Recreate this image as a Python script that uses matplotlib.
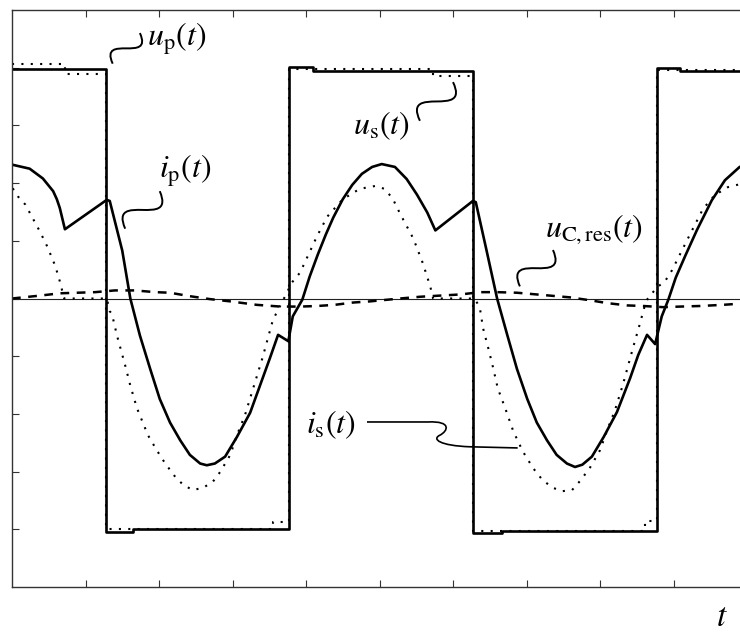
import matplotlib
matplotlib.use('Agg')
import matplotlib.pyplot as plt
from matplotlib.path import Path
from matplotlib.patches import PathPatch

plt.rcParams['mathtext.fontset'] = 'stix'
plt.rcParams['font.family'] = ['STIXGeneral', 'DejaVu Serif']

# primary voltage u_p(t), square wave (steps-post)
up_t = [0, 1.28, 1.65, 3.77, 4.10, 6.27, 6.67, 8.78, 9.09, 10]
up_v = [3.98, -4.04, -3.99, 4.02, 3.95, -4.07, -4.03, 4.00, 3.94, 3.94]

# secondary voltage u_s(t), dotted square wave (steps-post)
us_t = [0, 0.72, 1.28, 3.55, 3.77, 5.73, 6.27, 8.61, 8.78, 10]
us_v = [4.06, 3.89, -3.99, -3.87, 3.98, 3.85, -4.03, -3.86, 3.96, 3.96]

# primary current i_p(t)
ip_t = [0.00, 0.24, 0.42, 0.56, 0.61, 0.65, 0.72, 1.29, 1.33, 1.50, 1.61, 1.74,
        1.88, 2.01, 2.15, 2.29, 2.42, 2.56, 2.65, 2.76, 2.90, 3.06, 3.24, 3.51,
        3.62, 3.76, 3.82, 3.95, 4.05, 4.16, 4.27, 4.37, 4.50, 4.63, 4.76, 4.90,
        5.03, 5.21, 5.37, 5.51, 5.65, 5.76, 6.27, 6.31, 6.45, 6.60, 6.74, 6.87,
        7.01, 7.14, 7.28, 7.41, 7.55, 7.66, 7.76, 7.89, 8.05, 8.23, 8.41, 8.52,
        8.64, 8.75, 8.84, 8.93, 9.03, 9.16, 9.32, 9.43, 9.52, 9.70, 9.90, 10.0]
ip_v = [2.32, 2.25, 2.08, 1.86, 1.72, 1.57, 1.20, 1.71, 1.69, 0.83, 0.00, -0.64,
        -1.22, -1.74, -2.15, -2.46, -2.71, -2.86, -2.89, -2.86, -2.74, -2.40, -1.98, -1.03,
        -0.63, -0.74, -0.31, -0.02, 0.38, 0.76, 1.11, 1.40, 1.72, 1.97, 2.16, 2.28,
        2.33, 2.28, 2.07, 1.80, 1.49, 1.18, 1.69, 1.67, 0.87, 0.00, -0.64, -1.22,
        -1.74, -2.15, -2.46, -2.71, -2.86, -2.92, -2.88, -2.74, -2.40, -1.97, -1.38, -0.98,
        -0.63, -0.79, -0.31, -0.02, 0.36, 0.74, 1.19, 1.47, 1.70, 2.05, 2.28, 2.32]

# secondary current i_s(t)
is_t = [0.01, 0.08, 0.18, 0.27, 0.38, 0.48, 0.59, 0.65, 0.71, 1.29, 1.33, 1.36,
        1.43, 1.54, 1.61, 1.70, 1.85, 1.97, 2.08, 2.22, 2.33, 2.46, 2.60, 2.73,
        2.83, 2.97, 3.06, 3.17, 3.41, 3.55, 3.70, 3.81, 3.92, 4.15, 4.29, 4.50,
        4.73, 4.94, 5.07, 5.18, 5.28, 5.46, 5.59, 5.69, 5.73, 6.29, 6.33, 6.37,
        6.41, 6.48, 6.54, 6.61, 6.71, 6.82, 6.95, 7.09, 7.22, 7.36, 7.48, 7.62,
        7.73, 7.86, 8.00, 8.11, 8.20, 8.31, 8.45, 8.54, 8.61, 8.65, 8.78, 8.88,
        8.98, 9.09, 9.22, 9.40, 9.56, 9.74, 9.90]
is_v = [1.91, 1.77, 1.63, 1.42, 1.16, 0.90, 0.56, 0.30, 0.00, 0.00, -0.22, -0.27,
        -0.65, -1.16, -1.51, -1.90, -2.37, -2.63, -2.85, -3.09, -3.23, -3.32, -3.28, -3.18,
        -3.01, -2.71, -2.37, -2.02, -1.02, -0.37, 0.00, 0.28, 0.45, 1.08, 1.42, 1.72,
        1.90, 1.95, 1.90, 1.73, 1.47, 1.04, 0.61, 0.21, 0.00, 0.00, -0.08, -0.20,
        -0.52, -0.86, -1.17, -1.56, -1.90, -2.30, -2.65, -2.94, -3.15, -3.28, -3.34, -3.32,
        -3.16, -2.94, -2.63, -2.24, -1.95, -1.50, -0.85, -0.45, -0.12, 0.00, 0.20, 0.29,
        0.49, 0.77, 1.10, 1.55, 1.79, 1.93, 1.98]

# resonant capacitor voltage u_C,res(t)
uc_t = [0.00, 0.38, 0.65, 1.13, 1.40, 1.67, 1.95, 2.15, 2.42, 2.69, 2.97, 3.33,
        3.65, 3.92, 4.15, 4.39, 4.64, 4.87, 5.28, 5.55, 5.82, 6.10, 6.37, 6.60,
        6.87, 7.32, 7.59, 7.86, 8.10, 8.37, 8.59, 8.86, 9.09, 9.36, 9.67, 9.90, 10.0]
uc_v = [0.00, 0.05, 0.09, 0.11, 0.14, 0.14, 0.11, 0.10, 0.04, -0.01, -0.05, -0.11,
        -0.14, -0.14, -0.13, -0.11, -0.07, -0.05, 0.00, 0.03, 0.05, 0.07, 0.11, 0.11,
        0.10, 0.05, 0.02, -0.03, -0.08, -0.12, -0.13, -0.15, -0.14, -0.13, -0.11, -0.09, -0.08]


def squiggle(ax, p0, p1, k=0.75):
    # S-shaped leader line between two points (in data coords)
    sx, sy = 73.5, 57.7
    x0, y0 = p0[0] * sx, p0[1] * sy
    x1, y1 = p1[0] * sx, p1[1] * sy
    dx, dy = x1 - x0, y1 - y0
    nx, ny = -dy * k, dx * k
    c1 = ((x0 + dx / 3 + nx) / sx, (y0 + dy / 3 + ny) / sy)
    c2 = ((x0 + 2 * dx / 3 - nx) / sx, (y0 + 2 * dy / 3 - ny) / sy)
    path = Path([p0, c1, c2, p1], [Path.MOVETO, Path.CURVE4, Path.CURVE4, Path.CURVE4])
    ax.add_patch(PathPatch(path, fc='none', ec='black', lw=1.4))


fig = plt.figure(figsize=(7.4, 6.32), dpi=100)
ax = fig.add_axes([12 / 740, 1 - 587 / 632, 735 / 740, 577 / 632])

ax.axhline(0, color='#222222', lw=0.8)
ax.plot(uc_t, uc_v, color='black', lw=1.8, dashes=(3.5, 3))
ax.plot(us_t, us_v, color='black', lw=1.5, drawstyle='steps-post', linestyle=(0, (1, 3.5)))
ax.plot(is_t, is_v, color='black', lw=1.5, linestyle=(0, (1, 3.5)))
ax.plot(up_t, up_v, color='black', lw=1.9, drawstyle='steps-post')
ax.plot(ip_t, ip_v, color='black', lw=1.9, solid_joinstyle='round')

# labels with leader lines
fs = 23
ax.text(1.84, 4.50, r'$u_{\mathrm{p}}(t)$', fontsize=fs, ha='left', va='center')
squiggle(ax, (1.37, 4.07), (1.74, 4.60))
ax.text(5.03, 2.99, r'$u_{\mathrm{s}}(t)$', fontsize=fs, ha='center', va='center')
squiggle(ax, (5.55, 3.08), (6.00, 3.75))
ax.text(2.36, 2.21, r'$i_{\mathrm{p}}(t)$', fontsize=fs, ha='center', va='center')
squiggle(ax, (1.54, 1.21), (2.01, 1.86))
ax.text(7.92, 1.21, r'$u_{\mathrm{C,res}}(t)$', fontsize=fs, ha='center', va='center')
squiggle(ax, (6.91, 0.21), (7.36, 0.84))
ax.text(4.34, -2.19, r'$i_{\mathrm{s}}(t)$', fontsize=fs, ha='center', va='center')
leader = Path([(4.83, -2.14), (5.66, -2.14), (5.99, -2.12), (5.93, -2.30), (5.82, -2.37),
               (5.71, -2.44), (5.82, -2.55), (6.23, -2.57), (6.88, -2.59)],
              [Path.MOVETO, Path.LINETO, Path.CURVE4, Path.CURVE4, Path.CURVE4,
               Path.CURVE4, Path.CURVE4, Path.CURVE4, Path.LINETO])
ax.add_patch(PathPatch(leader, fc='none', ec='black', lw=1.2))

ax.set_xlim(0, 10)
ax.set_ylim(-5, 5)
ax.set_xticks(range(1, 10))
ax.set_yticks(range(-4, 5))
ax.tick_params(direction='in', top=True, bottom=True, left=True, right=False,
               labelbottom=False, labelleft=False, length=5, width=0.8, color='#333333')
for side in ['top', 'bottom', 'left']:
    ax.spines[side].set_color('#333333')
    ax.spines[side].set_linewidth(1.0)
ax.spines['right'].set_visible(False)

fig.text(722 / 740, 1 - 618 / 632, r'$t$', fontsize=24, ha='center', va='center')

fig.savefig('out.png', dpi=100)
